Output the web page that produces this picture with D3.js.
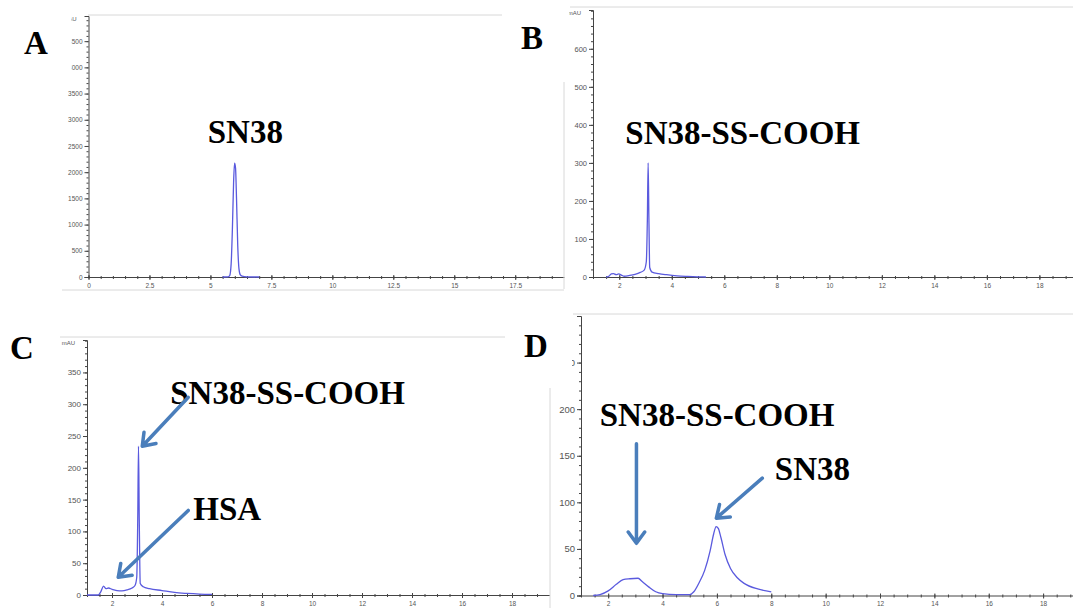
<!DOCTYPE html>
<html>
<head>
<meta charset="utf-8">
<script src="https://cdn.jsdelivr.net/npm/d3@7"></script>
<style>
  body { margin: 0; background: #fff; }
  svg { display: block; }
</style>
</head>
<body>
<div class="canva"></div>
<script>
// chromatogram traces, [retention time (min), absorbance (mAU)]
const seriesA = [[5.5,0],[5.72,2],[5.79,25],[5.85,250],[5.9,900],[5.95,1800],[5.99,2170],[6.03,2080],[6.07,1500],[6.12,600],[6.17,160],[6.22,45],[6.3,15],[6.5,3],[7.0,0]];
const seriesB = [[1.5,0],[1.6,2],[1.7,8],[1.78,9],[1.88,6],[1.98,8],[2.08,5],[2.18,2],[2.4,4],[2.6,7],[2.8,12],[2.95,18],[3.03,40],[3.07,150],[3.1,300],[3.13,150],[3.16,25],[3.25,13],[3.5,9],[3.8,6],[4.2,3],[4.6,1.5],[5.0,0.5],[5.3,0]];
const seriesC = [[1.0,0],[1.45,0],[1.55,5],[1.66,14],[1.76,10],[1.86,11],[2.0,9],[2.2,7],[2.4,6.5],[2.6,8],[2.8,11],[2.92,15],[2.99,28],[3.03,120],[3.06,234],[3.09,120],[3.13,18],[3.25,13],[3.5,10],[4.0,7],[4.5,4],[5.0,2.5],[5.5,1.5],[6.0,1]];
const seriesD = [[1.45,0],[1.7,1],[2.0,5],[2.3,12],[2.55,17],[2.8,18],[3.1,18.5],[3.25,15],[3.5,9],[3.75,4],[4.0,2],[4.5,1],[5.0,1],[5.15,4],[5.35,14],[5.55,27],[5.75,48],[5.88,66],[5.97,74],[6.05,72],[6.15,62],[6.3,44],[6.5,29],[6.75,19],[7.0,13],[7.5,7],[8.0,4]];

// tick labels
const xTicksA = [0, 2.5, 5, 7.5, 10, 12.5, 15, 17.5];
const xTicksBCD = [2, 4, 6, 8, 10, 12, 14, 16, 18];
const yTicksA = [0, 500, 1000, 1500, 2000, 2500, 3000, 3500, 4000, 4500];
const yTicksB = [0, 100, 200, 300, 400, 500, 600];
const yTicksC = [0, 50, 100, 150, 200, 250, 300, 350];
const yTicksD = [0, 50, 100, 150, 200, 250];

// annotations: text [x, y] in data units, arrows [tail, tip]
const labelsA = [{text: "SN38", at: [4.89, 2560]}];
const labelsB = [{text: "SN38-SS-COOH", at: [2.23, 351]}];
const labelsC = [{text: "SN38-SS-COOH", at: [4.33, 301]}, {text: "HSA", at: [5.25, 118]}];
const labelsD = [{text: "SN38-SS-COOH", at: [1.69, 182]}, {text: "SN38", at: [8.13, 124]}];
const arrowsC = [[[5.05, 311], [3.21, 234]], [[5.05, 133], [2.25, 28]]];
const arrowsD = [[[3.04, 163], [3.04, 56]], [[7.67, 126], [5.98, 83]]];

const width = 1073, height = 608;
const svg = d3.select(".canva").append("svg")
    .attr("width", width)
    .attr("height", height);

// panel layout (pixel boxes of each plot area); the screenshots are scaled unevenly,
// so the y tick labels differ in size from panel to panel
const panels = [
  {id: "A", data: seriesA, xDom: [0, 19.5], yDom: [0, 4980], box: [88.5, 564, 16, 277], yFont: 6.5,
   xTicks: xTicksA, xMinor: 0.5, yTicks: yTicksA, yMinor: 100, labels: labelsA, arrows: [], letter: [24, 54]},
  {id: "B", data: seriesB, xDom: [1, 19.28], yDom: [0, 702], box: [593, 1073, 10, 277], yFont: 7.5,
   xTicks: xTicksBCD, xMinor: 0.5, yTicks: yTicksB, yMinor: 20, labels: labelsB, arrows: [], letter: [521, 49]},
  {id: "C", data: seriesC, xDom: [1, 19.5], yDom: [0, 401], box: [87, 549.5, 340, 595], yFont: 8,
   xTicks: xTicksBCD, xMinor: 0.5, yTicks: yTicksC, yMinor: 10, labels: labelsC, arrows: arrowsC, letter: [10, 359]},
  {id: "D", data: seriesD, xDom: [1, 19.1], yDom: [0, 300], box: [581, 1073, 316, 595.5], yFont: 9.5,
   xTicks: xTicksBCD, xMinor: 0.5, yTicks: yTicksD, yMinor: 10, labels: labelsD, arrows: arrowsD, letter: [524, 357]}
];

const axisColor = "#444";
const traceColor = "#5a5ade";
const arrowColor = "#4a7ebb";
const sans = "'Liberation Sans', Arial, sans-serif";

panels.forEach(p => {
  const [left, right, top, bottom] = p.box;
  p.x = d3.scaleLinear().domain(p.xDom).range([left, right]);
  p.y = d3.scaleLinear().domain(p.yDom).range([bottom, top]);
  const g = svg.append("g").attr("class", "panel-" + p.id);

  // minor ticks
  const xMinorVals = d3.range(Math.ceil(p.xDom[0] / p.xMinor) * p.xMinor, p.xDom[1], p.xMinor);
  g.append("g")
      .attr("transform", `translate(0,${bottom})`)
      .call(d3.axisBottom(p.x).tickValues(xMinorVals).tickFormat("").tickSize(2).tickSizeOuter(0))
      .call(a => a.select(".domain").remove())
      .call(a => a.selectAll("line").attr("y1", -1).attr("stroke", axisColor));
  const yMinorVals = d3.range(0, p.yDom[1], p.yMinor);
  g.append("g")
      .attr("transform", `translate(${left},0)`)
      .call(d3.axisLeft(p.y).tickValues(yMinorVals).tickFormat("").tickSize(2).tickSizeOuter(0))
      .call(a => a.select(".domain").remove())
      .call(a => a.selectAll("line").attr("stroke", axisColor));

  // major axes
  g.append("g")
      .attr("transform", `translate(0,${bottom})`)
      .call(d3.axisBottom(p.x).tickValues(p.xTicks).tickFormat(d3.format("")).tickSize(3).tickSizeOuter(0).tickPadding(3))
      .call(a => a.select(".domain").attr("stroke", axisColor))
      .call(a => a.selectAll("line").attr("y1", -2).attr("stroke", axisColor))
      .call(a => a.selectAll("text").attr("fill", "#555").style("font", "6.5px " + sans));
  g.append("g")
      .attr("transform", `translate(${left},0)`)
      .call(d3.axisLeft(p.y).tickValues(p.yTicks).tickFormat(d3.format("d")).tickSize(4).tickSizeOuter(4).tickPadding(2))
      .call(a => a.select(".domain").attr("stroke", axisColor))
      .call(a => a.selectAll("line").attr("stroke", axisColor))
      .call(a => a.selectAll("text").attr("fill", "#555").style("font", p.yFont + "px " + sans));

  g.append("text")
      .attr("x", left - 12)
      .attr("y", top + 3)
      .attr("dy", "0.32em")
      .attr("text-anchor", "end")
      .attr("fill", "#555")
      .style("font", "6px " + sans)
      .text("mAU");

  // trace
  g.append("path")
      .datum(p.data)
      .attr("fill", "none")
      .attr("stroke", traceColor)
      .attr("stroke-width", 1.3)
      .attr("d", d3.line().x(d => p.x(d[0])).y(d => p.y(d[1])).curve(d3.curveMonotoneX));
});

// pieces of the neighbouring screenshots that cover the corners
const masks = [[0, 0, 71.5, 82], [555, 0, 14, 22], [550, 300, 22, 88]];
svg.append("g").selectAll("rect")
  .data(masks)
  .join("rect")
    .attr("x", d => d[0]).attr("y", d => d[1])
    .attr("width", d => d[2]).attr("height", d => d[3])
    .attr("fill", "#fff");

// light frame edges of each screenshot
const frames = [
  [88, 15, 502, 15], [564, 82, 564, 289], [62, 290, 564, 290],
  [570, 7, 1073, 7],
  [60, 337, 505, 337],
  [550, 388, 550, 608], [573, 314, 1073, 314]
];
svg.append("g").selectAll("line")
  .data(frames)
  .join("line")
    .attr("x1", d => d[0]).attr("y1", d => d[1])
    .attr("x2", d => d[2]).attr("y2", d => d[3])
    .attr("stroke", "#d8d8d8")
    .attr("stroke-width", 1);

// annotations
const serif = "bold 33px 'Liberation Serif', 'Times New Roman', serif";
panels.forEach(p => {
  const g = svg.append("g");
  g.append("text")
      .attr("x", p.letter[0]).attr("y", p.letter[1])
      .style("font", serif)
      .text(p.id);

  g.selectAll("text.lbl")
    .data(p.labels)
    .join("text")
      .attr("class", "lbl")
      .attr("x", d => p.x(d.at[0]))
      .attr("y", d => p.y(d.at[1]))
      .style("font", serif)
      .text(d => d.text);

  p.arrows.forEach(a => {
    const x1 = p.x(a[0][0]), y1 = p.y(a[0][1]);
    const x2 = p.x(a[1][0]), y2 = p.y(a[1][1]);
    const ang = Math.atan2(y2 - y1, x2 - x1);
    const len = 14, spread = Math.PI / 5;
    const wing = s => [x2 - len * Math.cos(ang + s), y2 - len * Math.sin(ang + s)];
    const w1 = wing(spread), w2 = wing(-spread);
    g.append("path")
        .attr("d", `M${x1},${y1}L${x2},${y2}M${w1[0]},${w1[1]}L${x2},${y2}L${w2[0]},${w2[1]}`)
        .attr("fill", "none")
        .attr("stroke", arrowColor)
        .attr("stroke-width", 3.5)
        .attr("stroke-linecap", "round")
        .attr("stroke-linejoin", "round");
  });
});
</script>
</body>
</html>
